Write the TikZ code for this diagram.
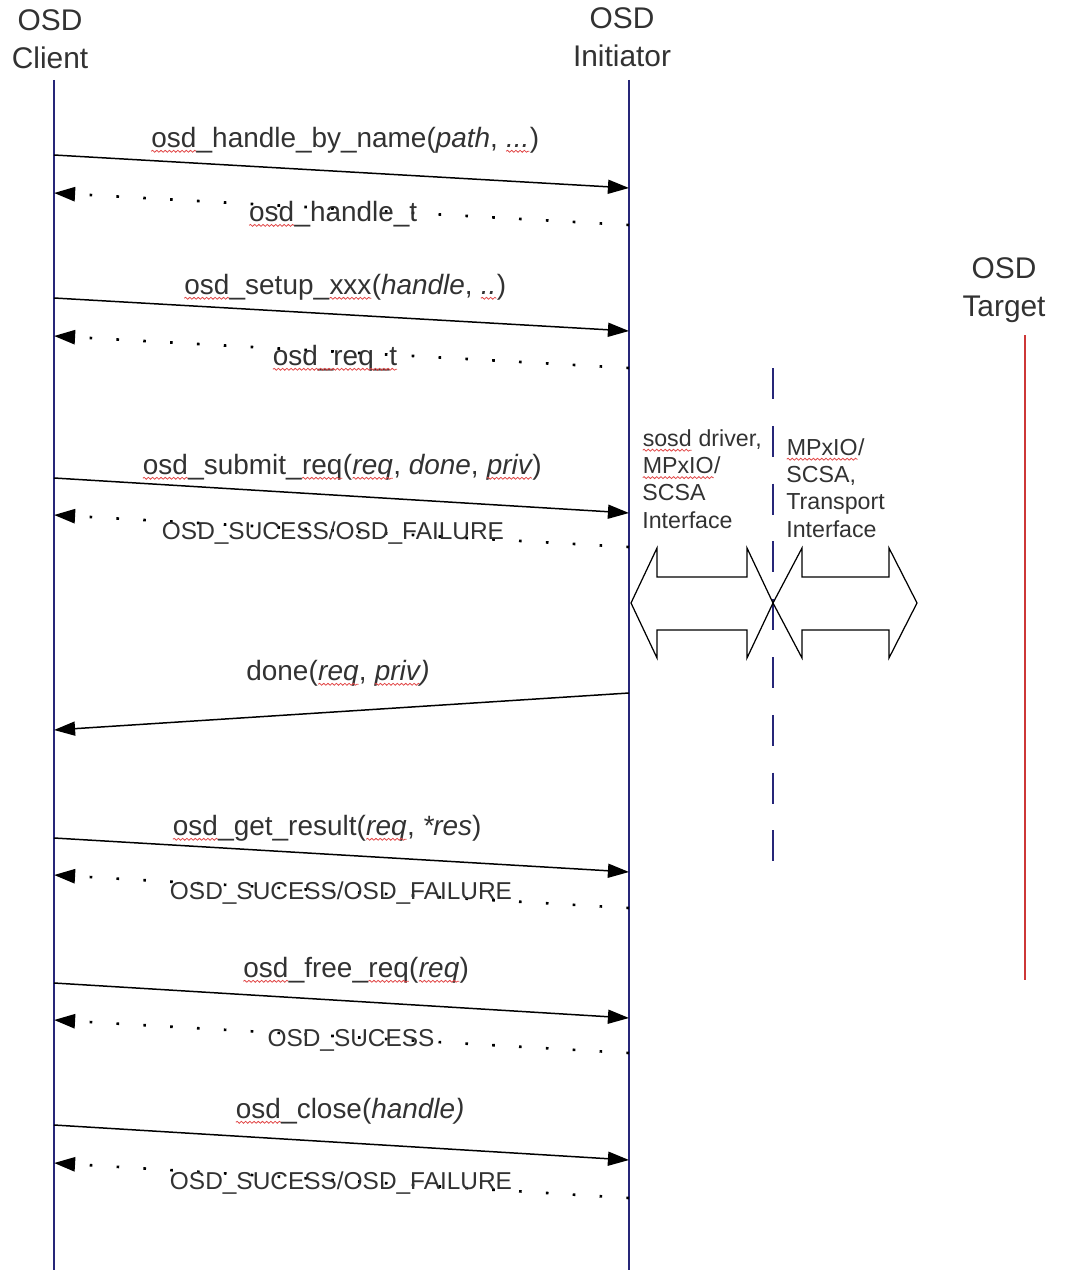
\documentclass[tikz,border=0pt]{standalone}
\usepackage{fontspec}
\setmainfont{Liberation Sans}
\usepackage{tikz}
\usetikzlibrary{arrows.meta, decorations.pathmorphing}
\definecolor{lifeblue}{RGB}{38,38,120}
\definecolor{targetred}{RGB}{205,55,55}
\definecolor{txtgray}{RGB}{50,50,50}
\definecolor{wavered}{RGB}{225,70,70}
\newcommand{\sq}[1]{\tikz[baseline=(sqw.base)]{\node[inner sep=0pt, outer sep=0pt] (sqw) {#1};
  \draw[wavered, line width=0.45pt, decorate, decoration={snake, amplitude=0.55pt, segment length=2.4pt}]
    ([yshift=-2.3pt]sqw.base west) -- ([yshift=-2.3pt]sqw.base east);}}

\begin{document}
\begin{tikzpicture}[x=0.02cm, y=-0.02cm,
  head/.style={align=center, text=txtgray, font=\fontsize{17}{21.5}\selectfont},
  lbl/.style={text=txtgray, font=\fontsize{15.9}{19}\selectfont, inner sep=0pt},
  rlbl/.style={text=txtgray, font=\fontsize{13.9}{17}\selectfont, inner sep=0pt},
  side/.style={align=left, anchor=north west, text=txtgray, font=\fontsize{13.2}{15.6}\selectfont, inner sep=0pt},
  life/.style={lifeblue, line width=0.7pt},
  call/.style={-{Triangle[length=12pt, width=8pt]}, line width=0.85pt},
  reply/.style={-{Triangle[length=12pt, width=8pt]}, line width=1.5pt, dash pattern=on 1.5pt off 13.8pt},
  bigarrow/.style={draw, line width=0.7pt, fill=white}]
  \useasboundingbox (0,0) rectangle (1067,1270);

  \node[head] (client) at (50,39) {OSD\\Client};
  \node[head] (init) at (622,37) {OSD\\Initiator};
  \node[head] (target) at (1004,290) {OSD\\Target};

  \coordinate (client-top) at (54,80);
  \coordinate (client-bot) at (54,1270);
  \coordinate (init-top) at (629,80);
  \coordinate (init-bot) at (629,1270);
  \coordinate (target-top) at (1025,335);
  \coordinate (target-bot) at (1025,980);
  \coordinate (split-top) at (773,368);
  \coordinate (split-bot) at (773,862);
  \draw[life] (client-top) -- (client-bot);
  \draw[life] (init-top) -- (init-bot);
  \draw[targetred, line width=0.7pt] (target-top) -- (target-bot);
  \draw[lifeblue, line width=0.8pt, dash pattern=on 17.6pt off 15.3pt] (split-top) -- (split-bot);

  \foreach \n/\ya/\yb/\yc/\yd in {hand/155/188/225/193, setup/298/331/368/336, submit/478/513/547/515,
      result/838/872/908/875, free/983/1018/1053/1020, close/1125/1160/1198/1163} {
    \coordinate (\n-c) at (54,\ya);
    \coordinate (\n-i) at (629,\yb);
    \coordinate (\n-ri) at (629,\yc);
    \coordinate (\n-rc) at (54,\yd);
    \draw[call] (\n-c) -- (\n-i);
    \draw[reply] (\n-ri) -- (\n-rc);
  }
  \coordinate (done-i) at (629,693);
  \coordinate (done-c) at (54,730);
  \draw[call] (done-i) -- (done-c);

  \node[lbl] (l-hand) at (345,140) {\sq{osd}\_handle\_by\_name(\textit{path}, \sq{\textit{...}})};
  \node[lbl] (r-hand) at (333,214) {\sq{osd}\_handle\_t};
  \node[lbl] (l-setup) at (345,287) {\sq{osd}\_setup\_\sq{xxx}(\textit{handle}, \sq{\textit{..}})};
  \node[lbl] (r-setup) at (335,358) {\sq{osd\_req\_t}};
  \node[lbl] (l-submit) at (342,467) {\sq{osd}\_submit\_\sq{req}(\textit{\sq{req}}, \textit{done}, \textit{\sq{priv}})};
  \node[rlbl] (r-submit) at (333,533) {OSD\_SUCESS/OSD\_FAILURE};
  \node[lbl] (l-done) at (338,673) {done(\textit{\sq{req}}, \textit{\sq{priv})}};
  \node[lbl] (l-result) at (327,828) {\sq{osd}\_get\_result(\textit{\sq{req}}, \textit{*res})};
  \node[rlbl] (r-result) at (341,893) {OSD\_SUCESS/OSD\_FAILURE};
  \node[lbl] (l-free) at (356,970) {\sq{osd}\_free\_\sq{req}(\textit{\sq{req}})};
  \node[rlbl] (r-free) at (351,1040) {OSD\_SUCESS};
  \node[lbl] (l-close) at (350,1111) {\sq{osd}\_close(\textit{handle)}};
  \node[rlbl] (r-close) at (341,1183) {OSD\_SUCESS/OSD\_FAILURE};

  \node[side] (drv) at (642,429) {\sq{sosd} driver,\\\sq{MPxIO}/\\SCSA\\Interface};
  \node[side] (trans) at (786,438) {\sq{MPxIO}/\\SCSA,\\Transport\\Interface};

  \draw[bigarrow] (631,603) -- (657,548) -- (657,577) -- (747,577) -- (747,548) -- (773,603)
    -- (747,658) -- (747,630) -- (657,630) -- (657,658) -- cycle;
  \draw[bigarrow] (773,603) -- (802,548) -- (802,577) -- (889,577) -- (889,548) -- (917,603)
    -- (889,658) -- (889,630) -- (802,630) -- (802,658) -- cycle;
\end{tikzpicture}
\end{document}
